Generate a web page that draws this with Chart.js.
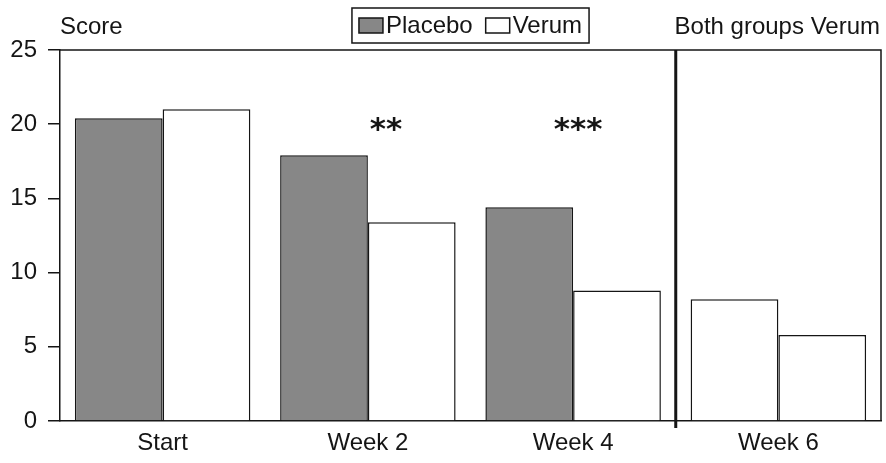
<!DOCTYPE html>
<html>
<head>
<meta charset="utf-8">
<script src="https://cdn.jsdelivr.net/npm/chart.js@4.4.0/dist/chart.umd.min.js"></script>
<style>
html,body{margin:0;padding:0;background:#fff;}
#wrap{width:886px;height:463px;}
</style>
</head>
<body>
<div id="wrap"><canvas id="c" width="886" height="463"></canvas></div>
<script>
const categories = ['Start', 'Week 2', 'Week 4', 'Week 6'];
const placeboValues = [20.4, 17.9, 14.4, 8.2];
const verumValues = [21.0, 13.4, 8.8, 5.8];
const yTicks = [0, 5, 10, 15, 20, 25];
const starLabels = ['', '**', '***', ''];
const seriesNames = ['Placebo', 'Verum'];
const yTitle = 'Score';
const rightNote = 'Both groups Verum';

const GRAY = '#878787';
const INK = '#151515';
const FONT = '"Liberation Sans", Arial, sans-serif';
const STAR_DX = [0, 18, 5, 0];

const overlay = {
  id: 'overlay',
  afterDraw(chart) {
    const ctx = chart.ctx;
    const a = chart.chartArea;
    const xs = chart.scales.x, ys = chart.scales.y;
    ctx.save();
    // top & right frame
    ctx.strokeStyle = INK;
    ctx.lineWidth = 1.5;
    ctx.beginPath();
    ctx.moveTo(a.left, a.top);
    ctx.lineTo(a.right, a.top);
    ctx.lineTo(a.right, a.bottom);
    ctx.stroke();
    // separator between Week 4 and Week 6
    const sx = (xs.getPixelForValue(2) + xs.getPixelForValue(3)) / 2;
    ctx.lineWidth = 3;
    ctx.beginPath();
    ctx.moveTo(sx, a.top);
    ctx.lineTo(sx, a.bottom + 7);
    ctx.stroke();
    // texts
    ctx.fillStyle = INK;
    ctx.font = '24px ' + FONT;
    ctx.textBaseline = 'middle';
    ctx.textAlign = 'left';
    ctx.fillText(yTitle, a.left, 27);
    ctx.textAlign = 'right';
    ctx.fillText(rightNote, a.right - 1, 27);
    // stars
    ctx.font = 'bold 31px "DejaVu Sans", sans-serif';
    ctx.textAlign = 'center';
    ctx.textBaseline = 'alphabetic';
    starLabels.forEach((s, i) => {
      if (!s) return;
      const m = ctx.measureText(s);
      const x = xs.getPixelForValue(i) + STAR_DX[i];
      const yc = ys.getPixelForValue(20.0);
      const y = yc + (m.actualBoundingBoxAscent - m.actualBoundingBoxDescent) / 2;
      ctx.fillText(s, x, y);
    });
    // legend
    ctx.font = '24px ' + FONT;
    ctx.textBaseline = 'middle';
    const sw = 24, sh = 15, gap = 3, itemGap = 13, padX = 7;
    const w0 = ctx.measureText(seriesNames[0]).width;
    const w1 = ctx.measureText(seriesNames[1]).width;
    const total = padX + sw + gap + w0 + itemGap + sw + gap + w1 + padX;
    const cx = (a.left + a.right) / 2;
    const lx = cx - total / 2;
    const ly = 8, lh = 35;
    ctx.lineWidth = 1.5;
    ctx.strokeStyle = INK;
    ctx.fillStyle = '#fff';
    ctx.fillRect(lx, ly, total, lh);
    ctx.strokeRect(lx, ly, total, lh);
    let x = lx + padX;
    const my = ly + lh / 2;
    ctx.fillStyle = GRAY;
    ctx.fillRect(x, my - sh / 2, sw, sh);
    ctx.strokeRect(x, my - sh / 2, sw, sh);
    x += sw + gap;
    ctx.fillStyle = INK;
    ctx.textAlign = 'left';
    ctx.fillText(seriesNames[0], x, my + 1);
    x += w0 + itemGap;
    ctx.fillStyle = '#fff';
    ctx.fillRect(x, my - sh / 2, sw, sh);
    ctx.strokeRect(x, my - sh / 2, sw, sh);
    x += sw + gap;
    ctx.fillStyle = INK;
    ctx.fillText(seriesNames[1], x, my + 1);
    ctx.restore();
  }
};

new Chart(document.getElementById('c'), {
  type: 'bar',
  data: {
    labels: categories,
    datasets: [
      {
        label: seriesNames[0],
        data: placeboValues,
        backgroundColor: categories.map((c, i) => i === categories.length - 1 ? '#fff' : GRAY),
        borderColor: INK,
        borderWidth: 1.5,
        borderSkipped: 'bottom',
        categoryPercentage: 0.855,
        barPercentage: 1.0
      },
      {
        label: seriesNames[1],
        data: verumValues,
        backgroundColor: '#fff',
        borderColor: INK,
        borderWidth: 1.5,
        borderSkipped: 'bottom',
        categoryPercentage: 0.855,
        barPercentage: 1.0
      }
    ]
  },
  options: {
    responsive: false,
    animation: false,
    devicePixelRatio: 1,
    layout: { padding: { top: 50, right: 5, left: 0, bottom: 0 } },
    plugins: { legend: { display: false }, tooltip: { enabled: false } },
    scales: {
      x: {
        grid: { display: true, drawOnChartArea: false, drawTicks: false },
        border: { display: true, color: INK, width: 1.5 },
        ticks: { color: INK, font: { size: 24, family: FONT }, padding: 8 },
        afterFit(s) { s.height = 42; }
      },
      y: {
        min: 0, max: 25,
        afterBuildTicks(s) { s.ticks = yTicks.map(v => ({ value: v })); },
        grid: { display: true, drawOnChartArea: false, drawTicks: true, tickLength: 12, color: INK, lineWidth: 1.5 },
        border: { display: true, color: INK, width: 1.5 },
        ticks: { color: INK, font: { size: 24, family: FONT }, padding: 11 },
        afterFit(s) { s.width = 60; }
      }
    }
  },
  plugins: [overlay]
});
</script>
</body>
</html>
